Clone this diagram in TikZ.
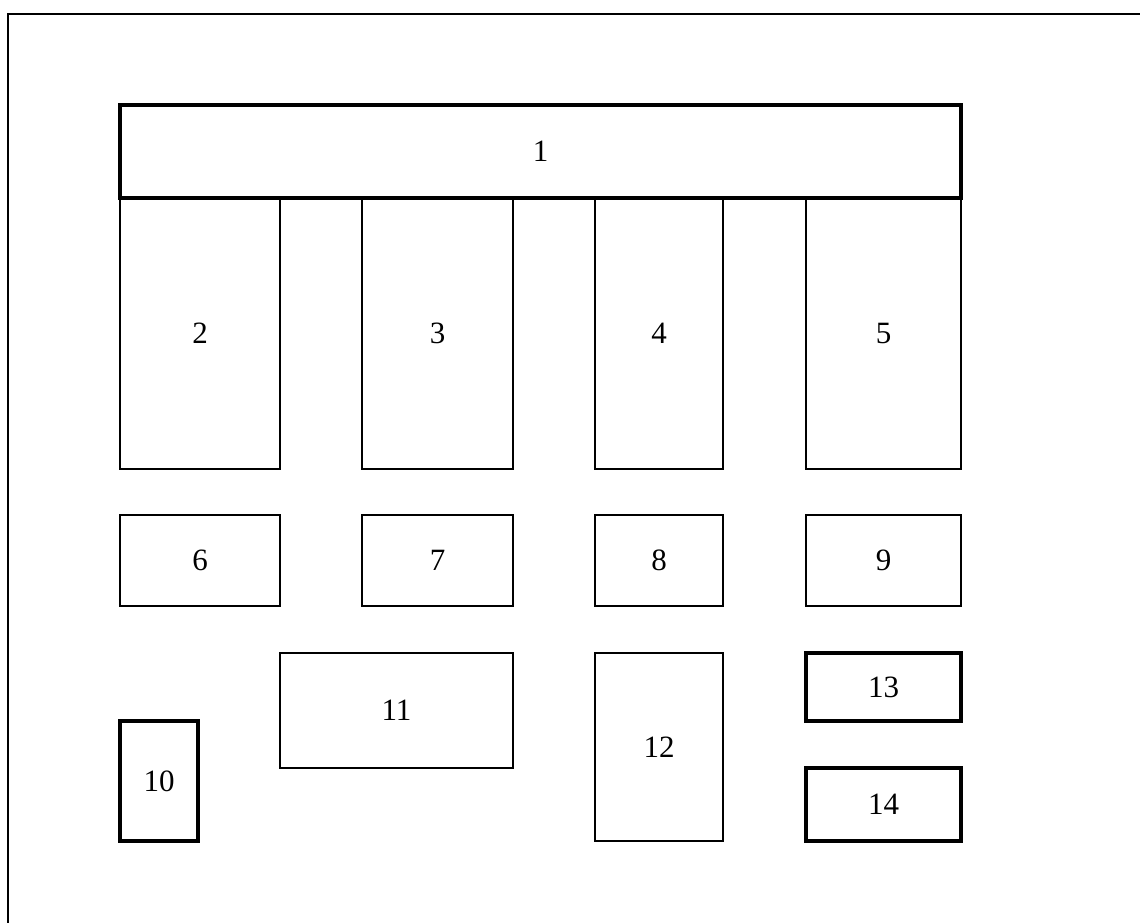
\documentclass[tikz,border=0pt]{standalone}
\usepackage{fontspec}
\setmainfont{Liberation Serif}
\usetikzlibrary{positioning}

\begin{document}
\begin{tikzpicture}[
  x=1pt, y=-1pt,
  blk/.style={draw, line width=2pt, inner sep=0pt, outer sep=0pt,
              font=\fontsize{31}{36}\selectfont},
  bold/.style={blk, line width=3.2pt},
  frameline/.style={line width=2pt}
]
\useasboundingbox (0,0) rectangle (1140,923);
\coordinate (ftr) at (1140,14);
\coordinate (fbl) at (8,923);
\draw[frameline] (ftr) -- (8,14) -- (fbl);

% top bar
\node[bold, minimum width=841pt, minimum height=93pt] (b1) at (540.5,151.5) {1};

% columns under the bar
\node[blk, minimum width=160pt, minimum height=271pt] (b2) at (200,333.5) {2};
\node[blk, minimum width=151pt, minimum height=271pt] (b3) at (437.5,333.5) {3};
\node[blk, minimum width=128pt, minimum height=271pt] (b4) at (659,333.5) {4};
\node[blk, minimum width=155pt, minimum height=271pt] (b5) at (883.5,333.5) {5};

% second row
\node[blk, minimum width=160pt, minimum height=91pt] (b6) at (200,560.5) {6};
\node[blk, minimum width=151pt, minimum height=91pt] (b7) at (437.5,560.5) {7};
\node[blk, minimum width=128pt, minimum height=91pt] (b8) at (659,560.5) {8};
\node[blk, minimum width=155pt, minimum height=91pt] (b9) at (883.5,560.5) {9};

% lower blocks
\node[bold, minimum width=78pt, minimum height=120pt] (b10) at (159,781) {10};
\node[blk, minimum width=233pt, minimum height=115pt] (b11) at (396.5,710.5) {11};
\node[blk, minimum width=128pt, minimum height=188pt] (b12) at (659,747) {12};
\node[bold, minimum width=155pt, minimum height=68pt] (b13) at (883.5,687) {13};
\node[bold, minimum width=155pt, minimum height=73pt] (b14) at (883.5,804.5) {14};
\end{tikzpicture}
\end{document}
